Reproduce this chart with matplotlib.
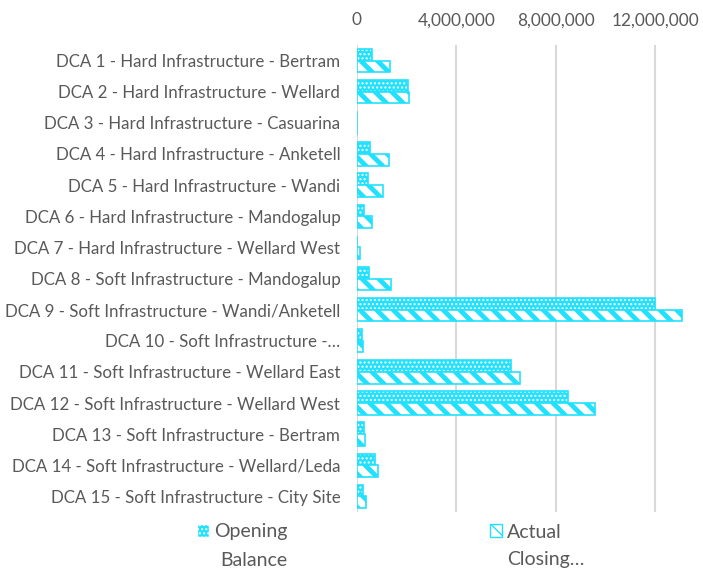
import matplotlib.pyplot as plt
import numpy as np
from matplotlib.ticker import FuncFormatter
from matplotlib.patches import Patch

categories = [
    "DCA 1 - Hard Infrastructure - Bertram",
    "DCA 2 - Hard Infrastructure - Wellard",
    "DCA 3 - Hard Infrastructure - Casuarina",
    "DCA 4 - Hard Infrastructure - Anketell",
    "DCA 5 - Hard Infrastructure - Wandi",
    "DCA 6 - Hard Infrastructure - Mandogalup",
    "DCA 7 - Hard Infrastructure - Wellard West",
    "DCA 8 - Soft Infrastructure - Mandogalup",
    "DCA 9 - Soft Infrastructure - Wandi/Anketell",
    "DCA 10 - Soft Infrastructure -…",
    "DCA 11 - Soft Infrastructure - Wellard East",
    "DCA 12 - Soft Infrastructure - Wellard West",
    "DCA 13 - Soft Infrastructure - Bertram",
    "DCA 14 - Soft Infrastructure - Wellard/Leda",
    "DCA 15 - Soft Infrastructure - City Site",
]
opening_balance = [620000, 2050000, 0, 540000, 460000, 300000, 20000, 480000,
                   12000000, 220000, 6200000, 8510000, 270000, 740000, 260000]
actual_closing = [1320000, 2080000, 0, 1280000, 1040000, 620000, 110000, 1360000,
                  13070000, 240000, 6550000, 9560000, 310000, 860000, 350000]
series_names = ["Opening Balance", "Actual Closing…"]
xticks = [0, 4000000, 8000000, 12000000]

cyan = "#22E1FF"
grey = "#595959"

plt.rcParams["font.family"] = ["Lato", "DejaVu Sans"]
plt.rcParams["font.size"] = 12.2

fig = plt.figure(figsize=(7.03, 5.70), dpi=100)
ax = fig.add_axes([357 / 703, 1 - 512 / 570, 1 - 357 / 703, 467 / 570])

y = np.arange(len(categories))
h = 0.375

# opening balance: cyan with white dots
ax.barh(y - h / 2, opening_balance, height=h, color=cyan, edgecolor="white",
        hatch="....", linewidth=0)
ax.barh(y - h / 2, opening_balance, height=h, fill=False, edgecolor=cyan, linewidth=1.2)

# actual closing: white with thick cyan stripes
ac = ax.barh(y + h / 2, actual_closing, height=h, color="white", edgecolor=cyan,
             hatch="\\\\", linewidth=1.2)
for p in ac:
    if hasattr(p, "set_hatch_linewidth"):
        p.set_hatch_linewidth(3.5)

ax.set_ylim(len(categories) - 0.5, -0.5)
ax.set_xlim(0, 346 / 24.85 * 1e6)
ax.set_yticks(y)
ax.set_yticklabels(categories, color=grey)
ax.set_xticks(xticks)
ax.xaxis.set_major_formatter(FuncFormatter(lambda v, p: f"{v:,.0f}"))
ax.xaxis.tick_top()
ax.tick_params(axis="x", length=0, pad=12, colors=grey, labelsize=12.4)
ax.tick_params(axis="y", length=0, pad=12)
for s in ax.spines.values():
    s.set_visible(False)
ax.grid(axis="x", color="#D9D9D9", linewidth=1.5)
ax.set_axisbelow(True)

# legend, wrapped labels as in the original
h1 = Patch(facecolor=cyan, edgecolor="white", hatch="....")
h2 = Patch(facecolor="white", edgecolor=cyan, hatch="\\\\")
leg = fig.legend([h1, h2], [n.split()[0] for n in series_names], ncol=2,
                 loc="center left", bbox_to_anchor=(197 / 703, 1 - 532 / 570),
                 frameon=False, handlelength=0.64, handleheight=0.64,
                 handletextpad=0.25, columnspacing=10.4, labelcolor=grey,
                 fontsize=14, borderpad=0, borderaxespad=0)
fig.canvas.draw()
for t, n in zip(leg.get_texts(), series_names):
    bb = t.get_window_extent()
    fig.text(bb.x0 / 703 + (6 / 703 if n.startswith("Opening") else 0),
             1 - 560 / 570, n.split(" ", 1)[1], color=grey, fontsize=14,
             va="center", ha="left")

fig.savefig("out.png", dpi=100)
